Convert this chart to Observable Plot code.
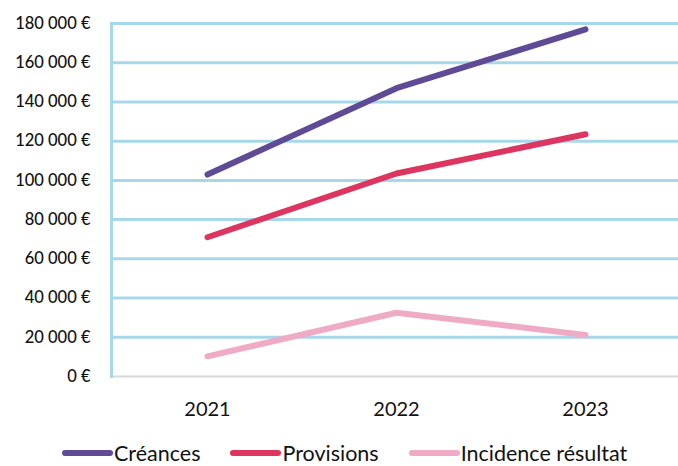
<!DOCTYPE html>
<html>
<head>
<meta charset="utf-8">
<script src="https://cdn.jsdelivr.net/npm/d3@7"></script>
<script src="https://cdn.jsdelivr.net/npm/@observablehq/plot@0.6"></script>
<style>
  html, body { margin: 0; padding: 0; background: #fff; }
  body { width: 678px; height: 466px; overflow: hidden; font-family: Lato, "Open Sans", sans-serif; }
  #legend { display: flex; justify-content: flex-start; align-items: center; gap: 30px; margin-top: 0px; font-size: 21.5px; color: #111; height: 26px; line-height: 26px; padding-left: 62px; }
  .item { display: flex; align-items: center; }
  .sw { width: 51px; height: 6px; border-radius: 3px; margin-right: 1px; }
</style>
</head>
<body>
<div id="chart"></div>
<div id="legend"></div>
<script>
const years = ["2021", "2022", "2023"];
const seriesNames = ["Créances", "Provisions", "Incidence résultat"];
const creances = [103000, 147000, 177000];
const provisions = [71000, 103500, 123500];
const incidence = [10300, 32500, 21200];
const colors = ["#5f4b95", "#dd3560", "#efabc5"];
const yTicks = [0, 20000, 40000, 60000, 80000, 100000, 120000, 140000, 160000, 180000];

const values = [creances, provisions, incidence];
const data = seriesNames.flatMap((s, i) => years.map((y, j) => ({series: s, year: y, value: values[i][j]})));

const fr = d3.formatLocale({decimal: ",", thousands: " ", grouping: [3], currency: ["", " €"]});
const fmt = d => fr.format(",")(d) + " €";

const chart = Plot.plot({
  width: 678,
  height: 440,
  marginLeft: 111,
  marginRight: -2,
  marginTop: 23,
  marginBottom: 64,
  style: {fontFamily: "Lato, 'Open Sans', sans-serif", background: "#fff", color: "#111", display: "block"},
  x: {type: "point", domain: years, padding: 0.5, label: null},
  y: {domain: [0, 180000], label: null},
  color: {domain: seriesNames, range: colors},
  marks: [
    Plot.ruleY(yTicks.filter(d => d > 0), {stroke: "#a6d8ea", strokeWidth: 3}),
    Plot.ruleY([0], {stroke: "#d9d9d9", strokeWidth: 2}),
    Plot.frame({anchor: "left", stroke: "#a6d8ea", strokeWidth: 3}),
    Plot.axisY({ticks: yTicks, tickFormat: fmt, tickSize: 0, tickPadding: 21, fontSize: 16.5, fontWeight: 500, label: null}),
    Plot.axisX({tickSize: 0, tickPadding: 25, fontSize: 20, label: null}),
    Plot.line(data, {x: "year", y: "value", z: "series", stroke: "series", strokeWidth: 6, strokeLinecap: "round", strokeLinejoin: "round"})
  ]
});
document.getElementById("chart").appendChild(chart);

const legend = document.getElementById("legend");
seriesNames.forEach((s, i) => {
  const it = document.createElement("div");
  it.className = "item";
  const sw = document.createElement("span");
  sw.className = "sw";
  sw.style.background = colors[i];
  const t = document.createElement("span");
  t.textContent = s;
  it.appendChild(sw);
  it.appendChild(t);
  legend.appendChild(it);
});
</script>
</body>
</html>
